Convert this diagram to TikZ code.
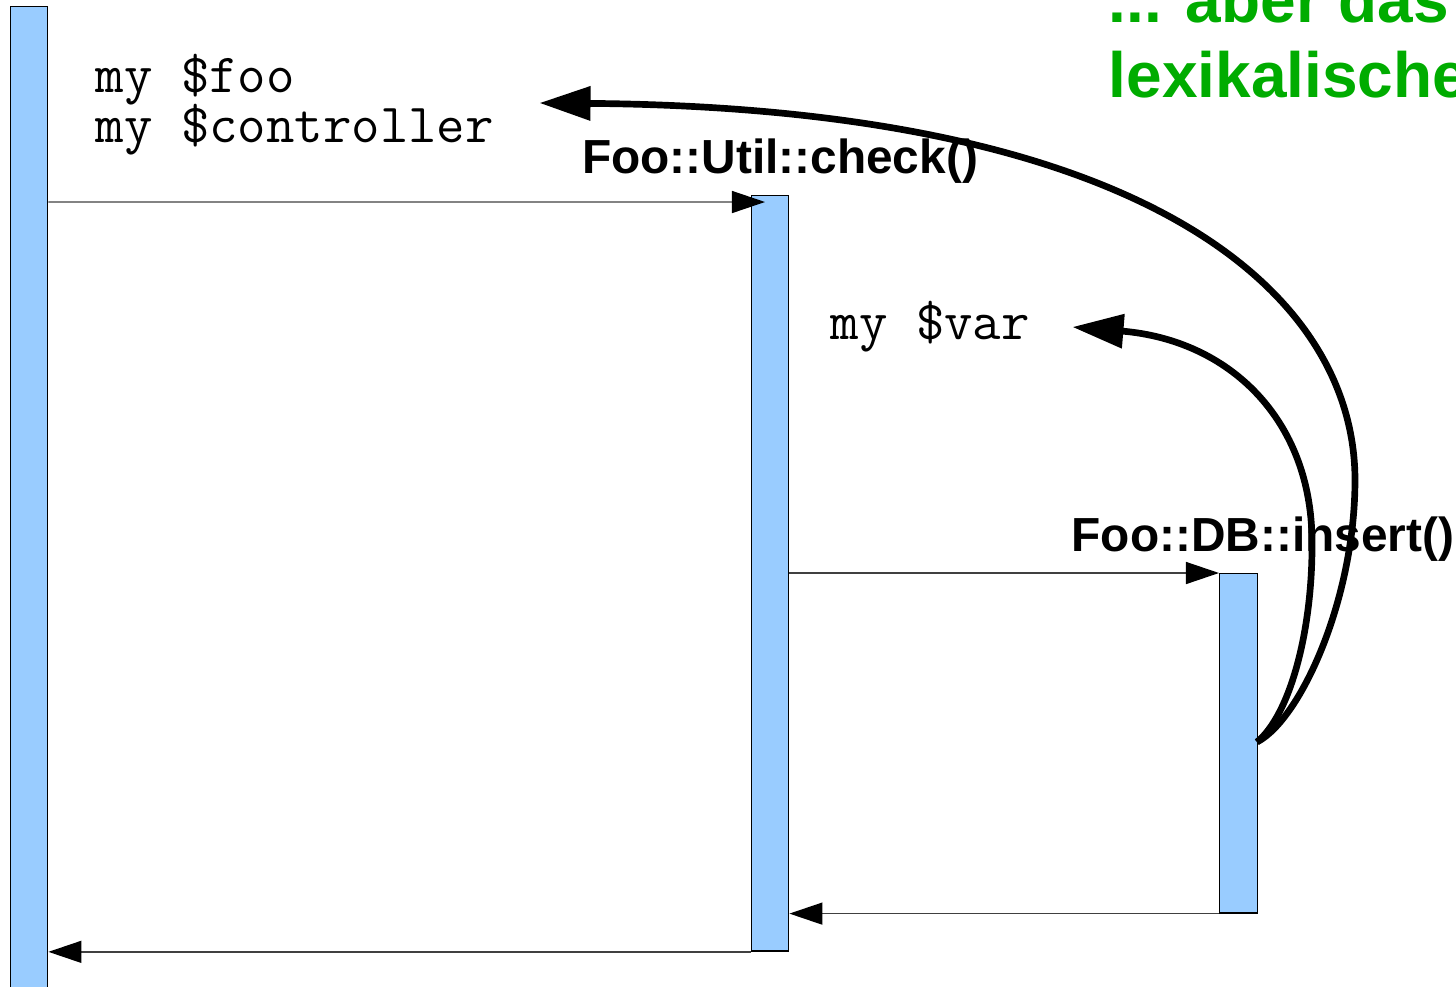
\documentclass[tikz,border=0pt]{standalone}
\usepackage{fontspec}
\setmainfont{Liberation Sans}
\usepackage{xcolor}
\definecolor{lifeblue}{RGB}{153,204,255}
\definecolor{hintgreen}{RGB}{0,172,0}
\usepackage{tikz}
\usetikzlibrary{arrows.meta, positioning, calc}

\begin{document}
\begin{tikzpicture}[
    x=0.01cm, y=-0.01cm,
    bar/.style={
        rectangle, draw=black, fill=lifeblue,
        line width=0.4pt, inner sep=0pt,
        minimum width=0.37cm, anchor=north west
    },
    msg/.style={-{Triangle[length=3.3mm, width=2.2mm, color=black]}, draw=black!75, line width=0.4pt},
    reach/.style={-{Triangle[length=5.1mm, width=3.3mm]}, line width=1.9pt},
    codetext/.style={font=\ttfamily\fontsize{15.7pt}{18pt}\selectfont, inner sep=0pt, anchor=base west},
    calllabel/.style={font=\bfseries\fontsize{13.6pt}{16pt}\selectfont, inner sep=0pt, anchor=base},
    hintlabel/.style={font=\bfseries\fontsize{18.2pt}{21pt}\selectfont, text=hintgreen, inner sep=0pt, anchor=base west}
]
    \clip (0,0) rectangle (1456,987);

    % lifelines
    \node[bar, minimum height=10cm]   (main) at (10,6) {};
    \node[bar, minimum height=7.55cm] (util) at (751,195) {};
    \node[bar, minimum height=3.39cm, minimum width=0.38cm] (db) at (1219,573) {};

    % calls and returns
    \draw[msg] (main.east |- 0,202) -- ([xshift=0.14cm, yshift=-0.07cm]util.north west);
    \draw[msg] (util.east |- db.north) -- (db.north west);
    \draw[msg] (db.south west) -- (util.east |- db.south);
    \draw[msg] (util.south west) -- (main.east |- util.south);

    \node[calllabel] (check)  at (780,173) {Foo::Util::check()};
    \node[calllabel] (insert) at (1263,551) {Foo::DB::insert()};

    % variables in scope
    \node[codetext] (foo)  at (95,92)  {my \$foo};
    \node[codetext] (ctrl) at (95,142) {my \$controller};
    \node[codetext] (var)  at (830,339) {my \$var};

    \node[hintlabel] (hinttop) at (1108,22) {... aber das};
    \node[hintlabel] (hintbot) at (1108,97) {lexikalische};

    % what insert() can see
    \coordinate (start) at (1257,742);
    \draw[reach] (start) .. controls (1300,720) and (1355,600) .. (1355,480)
        .. controls (1355,300) and (1160,108) .. ([xshift=0.45cm]ctrl.east |- 0,103);
    \draw[reach] (start) .. controls (1290,715) and (1313,630) .. (1312,540)
        .. controls (1311,420) and (1230,340) .. ([xshift=0.42cm]var.east |- 0,327);
\end{tikzpicture}
\end{document}
